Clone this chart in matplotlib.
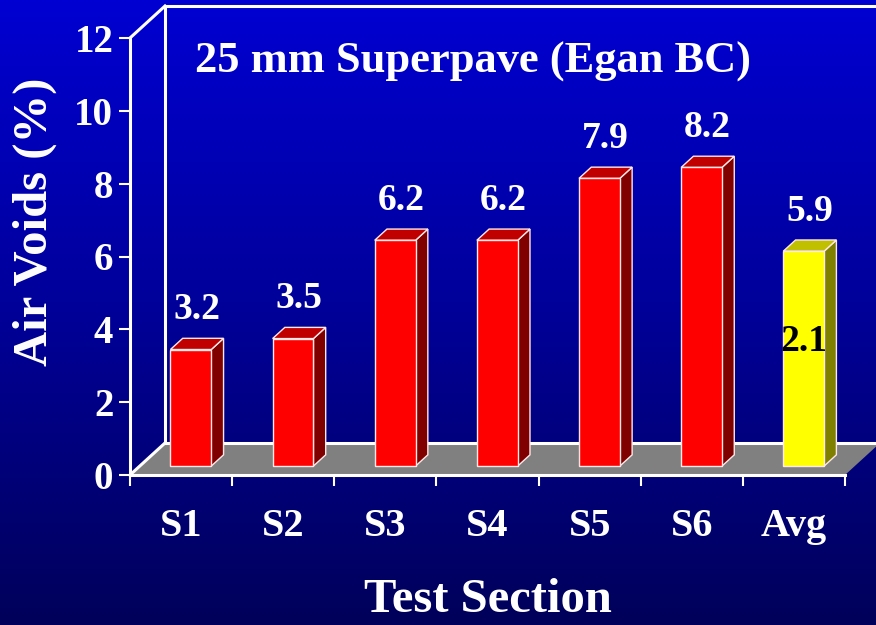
import numpy as np
import matplotlib
matplotlib.use("Agg")
import matplotlib.pyplot as plt
from matplotlib.patches import Polygon, Rectangle
from matplotlib.colors import LinearSegmentedColormap

categories = ["S1", "S2", "S3", "S4", "S5", "S6", "Avg"]
values = [3.2, 3.5, 6.2, 6.2, 7.9, 8.2, 5.9]
value_labels = ["3.2", "3.5", "6.2", "6.2", "7.9", "8.2", "5.9"]
avg_inner_label = "2.1"
yticks = [0, 2, 4, 6, 8, 10, 12]
title = "25 mm Superpave (Egan BC)"
xlabel = "Test Section"
ylabel = "Air Voids (%)"

FONT = "Liberation Serif"
W, H = 876, 625
fig = plt.figure(figsize=(W / 100, H / 100), dpi=100)

# background gradient
bg = fig.add_axes([0, 0, 1, 1])
cmap = LinearSegmentedColormap.from_list("bg", ["#00005A", "#000098", "#0000D2"])
grad = np.linspace(0, 1, 256).reshape(-1, 1)
bg.imshow(grad, aspect="auto", cmap=cmap, origin="lower", extent=[0, 1, 0, 1])
bg.set_axis_off()

# main axes (front plane)
left, right, bottom, top = 130, 845, 475, 38
ax = fig.add_axes([left / W, 1 - bottom / H, (right - left) / W, (bottom - top) / H])
ax.set_facecolor("none")
n = len(categories)
ax.set_xlim(0, n)
ax.set_ylim(0, 12)

DX = 35 / ((right - left) / n)   # depth offset in x data units
DY = 32 / ((bottom - top) / 12)  # depth offset in y data units

white = "white"
# floor
ax.add_patch(Polygon([(0, 0), (n, 0), (n + DX, DY), (DX, DY)], closed=True,
                     facecolor="#808080", edgecolor="none", clip_on=False, zorder=1))
# walls outlines
lw = 2.2
ax.plot([0, DX], [0, DY], color=white, lw=lw, clip_on=False, zorder=2)
ax.plot([DX, n + DX + 1], [DY, DY], color=white, lw=lw, clip_on=False, zorder=2)
ax.plot([DX, DX], [DY, 12 + DY], color=white, lw=lw, clip_on=False, zorder=2)
ax.plot([DX, n + DX + 1], [12 + DY, 12 + DY], color=white, lw=lw, clip_on=False, zorder=2)
ax.plot([0, DX], [12, 12 + DY], color=white, lw=lw, clip_on=False, zorder=2)

# bars
f0, bd, bw = 0.28, 0.35, 0.4
for i, (v, lab) in enumerate(zip(values, value_labels)):
    is_avg = categories[i] == "Avg"
    front_c, top_c, side_c = ("#FFFF00", "#C0C000", "#808000") if is_avg else ("#FF0000", "#C00000", "#800000")
    x0 = i + 0.5 - bw / 2 + f0 * DX
    y0 = f0 * DY
    ex, ey = bd * DX, bd * DY
    ec = "#FFE8E8"
    ax.add_patch(Polygon([(x0 + bw, y0), (x0 + bw + ex, y0 + ey), (x0 + bw + ex, y0 + v + ey), (x0 + bw, y0 + v)],
                         closed=True, facecolor=side_c, edgecolor=ec, lw=1, clip_on=False, zorder=3))
    ax.add_patch(Polygon([(x0, y0 + v), (x0 + bw, y0 + v), (x0 + bw + ex, y0 + v + ey), (x0 + ex, y0 + v + ey)],
                         closed=True, facecolor=top_c, edgecolor=ec, lw=1, clip_on=False, zorder=3))
    ax.add_patch(Rectangle((x0, y0), bw, v, facecolor=front_c, edgecolor=ec, lw=1, clip_on=False, zorder=4))
    ax.text(x0 + bw / 2 + ex / 2, y0 + v + ey + 0.3, lab, ha="center", va="bottom", color=white,
            fontsize=27, fontweight="bold", family=FONT, zorder=5)
    if is_avg:
        ax.text(x0 + bw / 2, y0 + v * 0.58, avg_inner_label, ha="center", va="center", color="black",
                fontsize=27, fontweight="bold", family=FONT, zorder=5)

# spines and ticks
for s in ["top", "right"]:
    ax.spines[s].set_visible(False)
for s in ["left", "bottom"]:
    ax.spines[s].set_color(white)
    ax.spines[s].set_linewidth(lw)
    ax.spines[s].set_zorder(6)
ax.set_yticks(yticks)
ax.set_yticklabels([str(t) for t in yticks], fontsize=28, fontweight="bold", family=FONT, color=white)
ax.tick_params(axis="y", colors=white, length=8, width=1.5, pad=4)
ax.set_xticks(np.arange(0, n + 1))
ax.set_xticklabels([])
ax.set_xticks(np.arange(n) + 0.5, minor=True)
ax.set_xticklabels(categories, minor=True, fontsize=29, fontweight="bold", family=FONT, color=white)
ax.tick_params(axis="x", which="major", colors=white, length=8, width=1.5)
ax.tick_params(axis="x", which="minor", length=0, pad=24, colors=white)

fig.text(473 / W, 1 - 62 / H, title, ha="center", va="center", color=white,
         fontsize=32, fontweight="bold", family=FONT)
fig.text(488 / W, 1 - 600 / H, xlabel, ha="center", va="center", color=white,
         fontsize=35, fontweight="bold", family=FONT)
fig.text(35 / W, 1 - 222 / H, ylabel, ha="center", va="center", color=white, rotation=90,
         fontsize=35, fontweight="bold", family=FONT)

fig.savefig("out.png", dpi=100)
